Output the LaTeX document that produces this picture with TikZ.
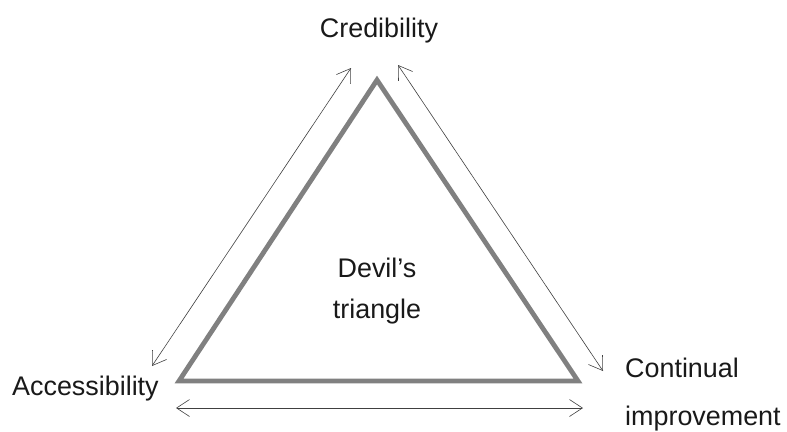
\documentclass[tikz,border=0pt]{standalone}
\usepackage{fontspec}
\setmainfont{Liberation Sans}
\usetikzlibrary{arrows.meta}
\begin{document}
\begin{tikzpicture}[x=1bp,y=-1bp,
  lbl/.style={inner sep=0pt,font=\fontsize{27}{32}\selectfont,text=black!90},
  side/.style={draw=black!75,line width=0.6bp,{Straight Barb[length=13bp,width=17bp]}-{Straight Barb[length=13bp,width=17bp]}},
  tri/.style={draw=black!50,line width=4.8bp,line join=miter}]
\useasboundingbox (0,0) rectangle (787,431);
\coordinate (T) at (377,80);
\coordinate (L) at (179,381);
\coordinate (R) at (578,381);
\draw[tri] (T) -- (L) -- (R) -- cycle;
\coordinate (a1) at (152,366);
\coordinate (a2) at (351,68);
\coordinate (b1) at (398,65);
\coordinate (b2) at (603,371);
\coordinate (c1) at (176,408);
\coordinate (c2) at (583,408);
\draw[side] (a1) -- (a2);
\draw[side] (b1) -- (b2);
\draw[side] (c1) -- (c2);
\node[lbl,anchor=base] (cred) at (379,37) {Credibility};
\node[lbl,anchor=base west] (acc) at (12,395) {Accessibility};
\node[lbl,anchor=base west] (cont1) at (625,377) {Continual};
\node[lbl,anchor=base west] (cont2) at (625,425) {improvement};
\node[lbl,anchor=base] (dev1) at (377,277) {Devil’s};
\node[lbl,anchor=base] (dev2) at (377,318) {triangle};
\end{tikzpicture}
\end{document}
